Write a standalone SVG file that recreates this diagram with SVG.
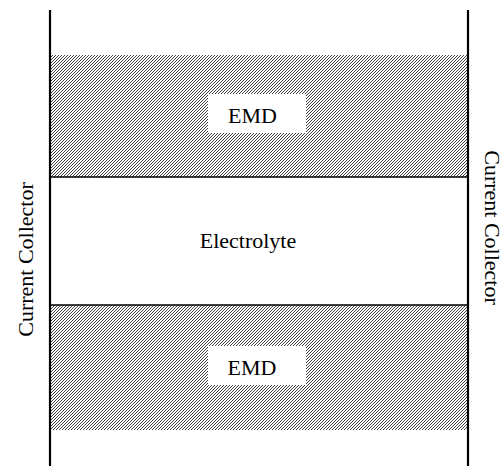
<svg xmlns="http://www.w3.org/2000/svg" width="504" height="472" viewBox="0 0 504 472">
<style>
text{font-family:'Liberation Serif','Times New Roman',serif;font-size:22px;fill:#000;text-anchor:middle}
.coll{stroke:#000;stroke-width:2.2;fill:none}
.edge{stroke:#000;stroke-width:1.5;fill:none}
.lab{fill:#fff}
</style>
<defs>
<pattern id="hatch" x="0" y="0" width="3" height="3" patternUnits="userSpaceOnUse">
<rect width="3" height="3" fill="#fff"/>
<path d="M-1,4 L4,-1 M-1,1 L1,-1 M2,4 L4,2" stroke="#000" stroke-width="0.75" fill="none"/>
</pattern>
</defs>
<rect width="504" height="472" fill="#fff"/>
<g id="emd-top">
<rect x="51" y="55" width="416" height="122" fill="url(#hatch)"/>
<rect class="lab" x="208" y="94" width="98" height="39"/>
<text x="252.5" y="122.5" font-family="Liberation Serif, serif">EMD</text>
</g>
<g id="electrolyte">
<text x="248" y="248" font-family="Liberation Serif, serif">Electrolyte</text>
</g>
<g id="emd-bottom">
<rect x="51" y="305" width="416" height="125" fill="url(#hatch)"/>
<rect class="lab" x="208" y="346" width="98" height="39"/>
<text x="252" y="375" font-family="Liberation Serif, serif">EMD</text>
</g>
<g id="connectors">
<line class="edge" x1="50" y1="177" x2="468" y2="177"/>
<line class="edge" x1="50" y1="305" x2="468" y2="305"/>
</g>
<g id="collector-left">
<line class="coll" x1="50" y1="10" x2="50" y2="466"/>
<text transform="translate(33,259.5) rotate(-90)" font-family="Liberation Serif, serif">Current Collector</text>
</g>
<g id="collector-right">
<line class="coll" x1="468" y1="10" x2="468" y2="466"/>
<text transform="translate(485,227.5) rotate(90)" font-family="Liberation Serif, serif" font-size="21.5">Current Collector</text>
</g>
</svg>
